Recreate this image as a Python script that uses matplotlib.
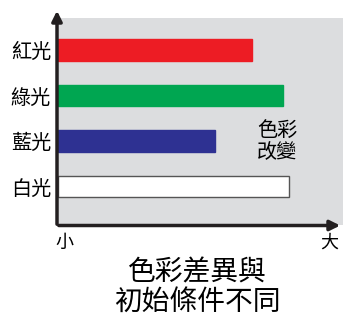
import matplotlib
matplotlib.use("Agg")
import matplotlib.pyplot as plt

plt.rcParams['font.family'] = ['Noto Sans CJK TC', 'DejaVu Sans']

categories = ['白光', '藍光', '綠光', '紅光']
values = [81, 55, 79, 68]
colors = ['#ffffff', '#2e3192', '#00a651', '#ed1c24']
edgecolors = ['#555555', '#2e3192', '#00a651', '#ed1c24']
xlabel_lines = ['色彩差異與', '初始條件不同']
note = '色彩\n改變'
x_small, x_large = '小', '大'

W, H = 343, 318
fig = plt.figure(figsize=(W / 100, H / 100), dpi=100)
ax = fig.add_axes([58 / W, (H - 225) / H, (W - 58) / W, (225 - 18) / H])
ax.set_facecolor('#dcdddf')

ypos = list(range(len(categories)))
ax.barh(ypos, values, height=0.48, color=colors, edgecolor=edgecolors, linewidth=1.0)
ax.set_xlim(0, 100)
ax.set_ylim(-0.846, 3.703)
ax.set_yticks(ypos)
ax.set_yticklabels(categories, fontsize=14.5, fontweight='light')
ax.tick_params(axis='y', length=0, pad=5)
ax.set_xticks([])
for s in ax.spines.values():
    s.set_visible(False)

ax.text(77, 0.98, note, fontsize=14.5, ha='center', va='center', linespacing=1.05, fontweight='light')

fig.add_artist(matplotlib.patches.FancyArrowPatch(
    (57 / W, (H - 227) / H), (57 / W, (H - 8) / H), transform=fig.transFigure,
    arrowstyle='-|>,head_length=6,head_width=3', mutation_scale=1, lw=2.5, color='#231f20'))
fig.add_artist(matplotlib.patches.FancyArrowPatch(
    (56 / W, (H - 225.5) / H), (343 / W, (H - 225.5) / H), transform=fig.transFigure,
    arrowstyle='-|>,head_length=6,head_width=3', mutation_scale=1, lw=2.5, color='#231f20'))

fig.text(55 / W, (H - 243) / H, x_small, fontsize=13, ha='left', va='center', fontweight='light')
fig.text(338 / W, (H - 243) / H, x_large, fontsize=13, ha='right', va='center', fontweight='light')
fig.text(197 / W, (H - 272) / H, xlabel_lines[0], fontsize=20, ha='center', va='center', fontweight='light')
fig.text(197 / W, (H - 302) / H, xlabel_lines[1], fontsize=20, ha='center', va='center', fontweight='light')

fig.savefig('out.png', dpi=100)
